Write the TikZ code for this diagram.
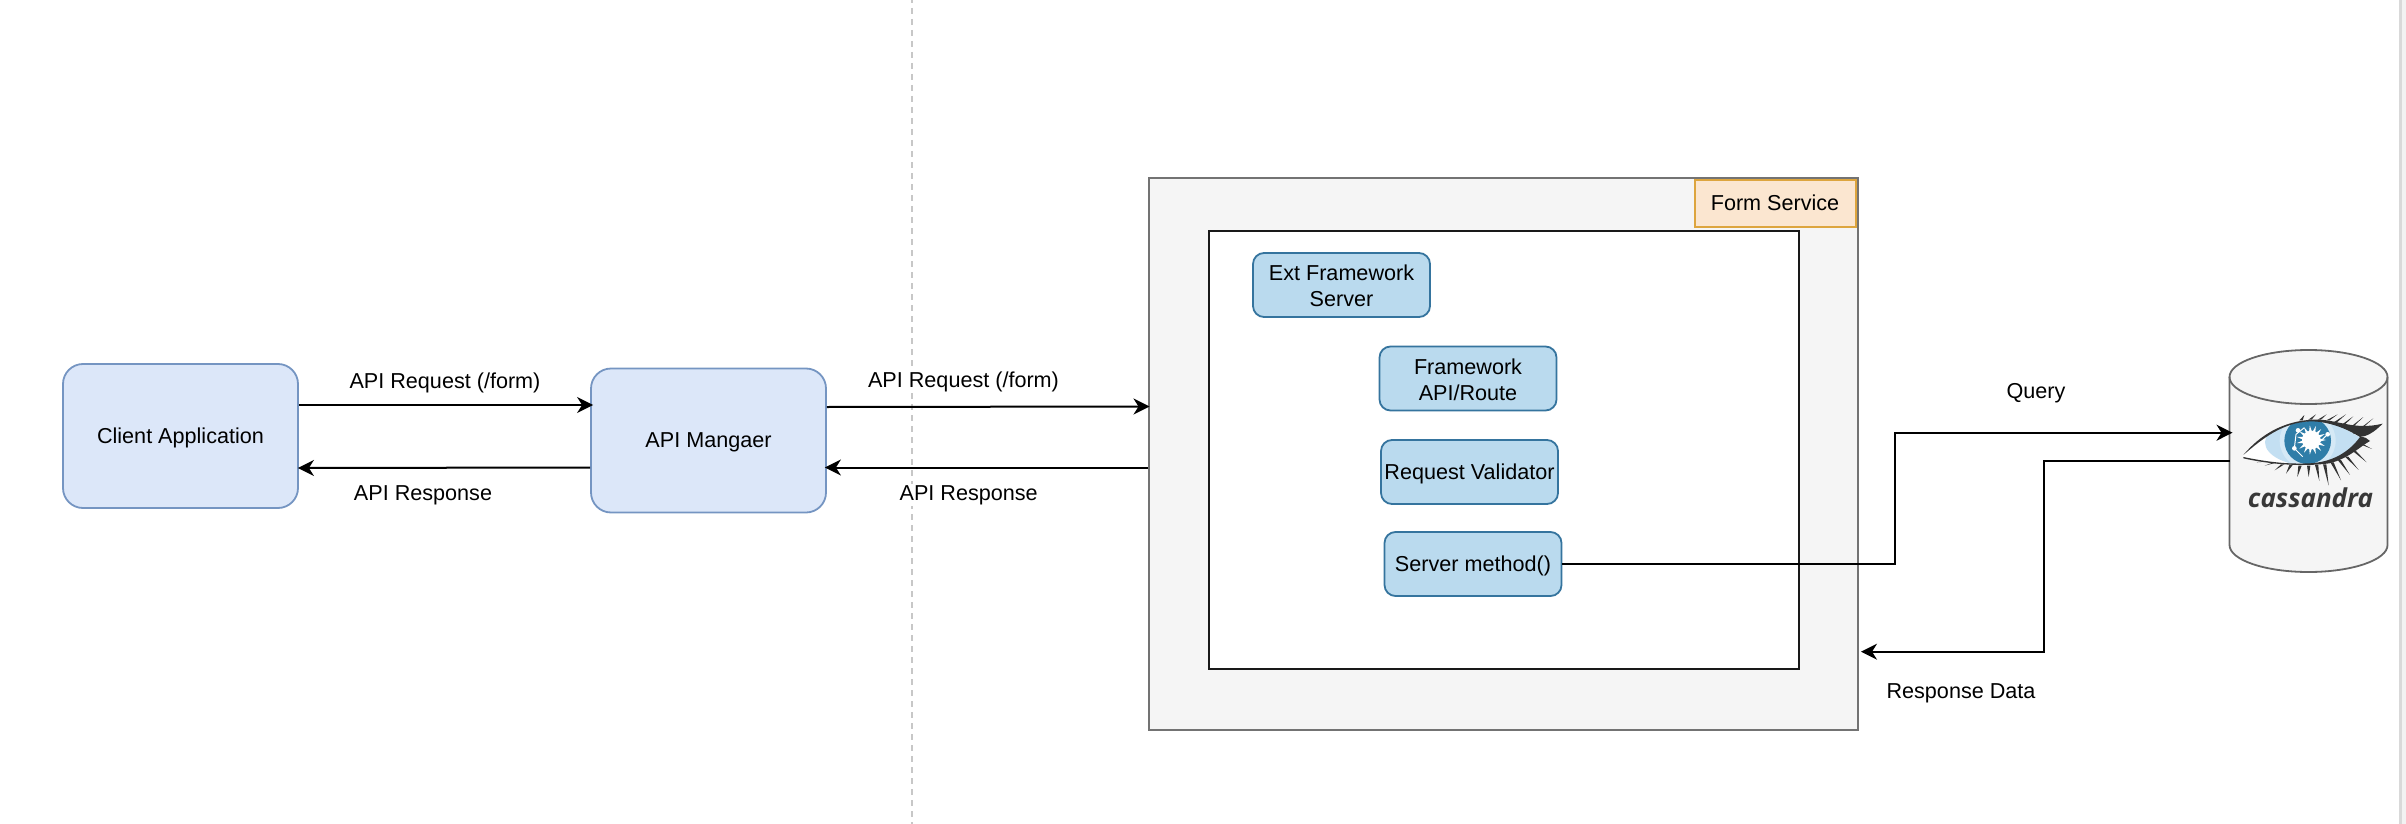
\documentclass[tikz,border=0pt]{standalone}
\usepackage{fontspec}
\setmainfont{Liberation Sans}
\newfontfamily\logofont{Open Sans}
\usetikzlibrary{arrows.meta,calc}
\definecolor{appfill}{HTML}{DCE7F9}
\definecolor{appline}{HTML}{7595C2}
\definecolor{stepfill}{HTML}{BADAEE}
\definecolor{stepline}{HTML}{35749E}
\definecolor{tagfill}{HTML}{FBE6D0}
\definecolor{tagline}{HTML}{DDA53E}
\definecolor{lashdark}{HTML}{333333}
\definecolor{irisblue}{HTML}{2F7DA8}
\definecolor{eyelight}{HTML}{C3DFF2}
\begin{document}
\begin{tikzpicture}[x=1pt,y=-1pt,font=\fontsize{21.6}{25.7}\selectfont]
    \tikzstyle{appbox} = [rectangle, rounded corners=20pt, minimum width=235pt, minimum height=144pt, inner sep=0pt, text height=16pt, text depth=1.5pt, line width=1.8pt, draw=appline, fill=appfill]
    \tikzstyle{stepbox} = [rectangle, rounded corners=11pt, minimum width=177pt, minimum height=64pt, inner sep=0pt, align=center, line width=1.8pt, draw=stepline, fill=stepfill, node distance=93.5pt]
    \tikzstyle{twolines} = [text height=43pt, text depth=0pt]
    \tikzstyle{oneline} = [text height=17pt, text depth=1.5pt]
    \tikzstyle{edgetext} = [fill=white, inner sep=1pt]
    \tikzstyle{arrow} = [line width=2pt,->,>={Stealth[length=16pt,width=16pt,inset=5pt]}]
    \tikzstyle{lash} = [fill=lashdark, draw=none]
    \tikzstyle{dbline} = [line width=1.8pt, draw=black!60]

    \useasboundingbox (0,0) rectangle (2406,824);

    % page edge on the right, page break line
    \fill [black!15] (2399,0) rectangle (2402,824);
    \fill [black!5] (2402,0) rectangle (2406,824);
    \coordinate (breaktop) at (911.5,0);
    \coordinate (breakend) at (911.5,824);
    \draw [line width=2pt, black!22, dash pattern=on 6pt off 5pt, dash phase=3pt] (breaktop) -- (breakend);

    \node (client) [appbox] at (180.5,436) {Client Application};
    \node (manager) [appbox] at (708.5,440.5) {API Mangaer};

    \node (service) [rectangle, minimum width=709pt, minimum height=552pt, line width=2pt, draw=black!55, fill=black!4] at (1503.5,454) {};
    \node (inner) [rectangle, minimum width=590pt, minimum height=438pt, line width=2pt, draw=black!90, fill=white] at (1503.5,449.5) {};
    \node (tag) [rectangle, minimum width=161pt, minimum height=47pt, inner sep=0pt, line width=2pt, draw=tagline, fill=tagfill] at (1775,203) {Form Service};

    \node (ext) [stepbox, twolines] at (1341.5,285) {Ext Framework\\Server};
    \node (route) [stepbox, twolines, below of=ext, xshift=126.5pt] {Framework\\API/Route};
    \node (validator) [stepbox, oneline, below of=route, xshift=1.5pt] {Request Validator};
    \node (method) [stepbox, oneline, below of=validator, xshift=3.5pt, yshift=1.5pt] {Server method()};

    \node (db) [rectangle, minimum width=158pt, minimum height=224pt, inner sep=0pt, outer sep=0pt] at (2308.5,461) {};
    \fill [black!4] ([yshift=-28pt]db.north west) arc [start angle=180, end angle=0, x radius=79pt, y radius=27pt] -- ([yshift=28pt]db.south east) arc [start angle=0, end angle=-180, x radius=79pt, y radius=27pt] -- cycle;
    \draw [dbline] ([yshift=-28pt]db.north west) arc [start angle=180, end angle=0, x radius=79pt, y radius=27pt] -- ([yshift=28pt]db.south east) arc [start angle=0, end angle=-180, x radius=79pt, y radius=27pt] -- cycle;
    \draw [dbline] ([yshift=-28pt]db.north west) arc [start angle=180, end angle=360, x radius=79pt, y radius=27pt];

    % eye of the logo, numbers are the px of a 3x crop
    \begin{scope}[shift={(2236,405)},x=.3333pt,y=-.3333pt]
        \fill [white] (22,150) .. controls (80,95) and (150,48) .. (230,48) .. controls (300,48) and (340,80) .. (385,105) .. controls (340,150) and (290,175) .. (220,178) .. controls (150,182) and (80,170) .. (22,160) -- cycle;
        \begin{scope}
            \clip (22,150) .. controls (80,95) and (150,48) .. (230,48) .. controls (300,48) and (340,80) .. (385,105) .. controls (340,150) and (290,175) .. (220,178) .. controls (150,182) and (80,170) .. (22,160) -- cycle;
            \fill [eyelight] (232,112) ellipse (145 and 72);
            \fill [eyelight!70!white] (215,107) circle (84);
            \fill [irisblue] (215,107) circle (70);
        \end{scope}
        % pupil with its spikes
        \fill [white] (226,105) circle (28);
        \foreach \ang in {0,24,...,336} {
            \fill [white] ($(226,105)+(\ang-9:26)$) -- ($(226,105)+(\ang:44)$) -- ($(226,105)+(\ang+9:26)$) -- cycle;
        }
        \draw [white, line width=1pt] (175,130) -- (180,88) -- (205,68);
        \draw [white, line width=1pt] (175,130) -- (200,155);
        \draw [white, line width=1pt] (275,88) -- (250,112);
        \fill [white] (175,130) circle (7) (186,76) circle (7) (275,88) circle (7);
        % lids
        \fill [lashdark] (22,150) .. controls (70,92) and (140,48) .. (230,44) .. controls (300,40) and (350,78) .. (440,56) .. controls (412,84) and (392,94) .. (372,96) .. controls (330,70) and (280,50) .. (225,49) .. controls (140,52) and (80,100) .. (22,150) -- cycle;
        \fill [lashdark] (22,156) .. controls (90,170) and (150,178) .. (220,175) .. controls (290,172) and (340,140) .. (372,96) .. controls (385,95) and (395,100) .. (402,108) .. controls (375,122) and (340,160) .. (280,175) .. controls (200,186) and (100,178) .. (22,160) -- cycle;
        \foreach \sx/\sy/\ex/\ey in {195/46/205/30, 222/44/240/28, 250/44/272/28, 276/46/305/28, 298/52/330/28, 318/62/352/34, 338/74/382/36, 356/86/412/40, 378/118/408/132, 355/138/392/172, 332/155/368/195, 310/165/342/210, 288/172/315/226, 266/178/278/242, 242/180/250/228, 218/182/218/216, 192/182/184/216, 165/180/150/206, 140/178/116/196, 112/174/86/182, 85/170/62/172} {
            \fill [lash] (\sx-5,\sy) -- (\ex,\ey) -- (\sx+5,\sy) -- cycle;
        }
    \end{scope}
    \node (logoname) [anchor=base, inner sep=0pt, text=black!78, font=\logofont\bfseries\itshape\fontsize{26}{30}\selectfont] at (2310.5,507) {cassandra};

    \coordinate (bendq) at (1895,432.7);
    \coordinate (bendr) at (2044,651.7);

    \draw [arrow] ([yshift=31pt]client.east) -- ([yshift=35.5pt,xshift=3pt]manager.west);
    \draw [arrow] ([yshift=-27pt]manager.west) -- ([yshift=-32pt,xshift=-1pt]client.east);
    \draw [arrow] ([yshift=33.5pt]manager.east) -- ([yshift=47.5pt,xshift=1.5pt]service.west);
    \draw [arrow] ([yshift=-13.5pt]service.west) -- ([yshift=-27pt,xshift=-2pt]manager.east);
    \draw [arrow] (method.east) -| (bendq) -- ([xshift=3pt]db.west |- bendq);
    \draw [arrow] (db.west) -| (bendr) -- ([yshift=-197.7pt,xshift=2pt]service.east);

    \node (reqone) [edgetext] at (445,382.5) {API Request (/form)};
    \node (respone) [edgetext] at (423,495) {API Response};
    \node (reqtwo) [edgetext] at (963.5,381.5) {API Request (/form)};
    \node (resptwo) [edgetext] at (968.7,495) {API Response};
    \node (query) [edgetext] at (2036,393.5) {Query};
    \node (respdata) [edgetext] at (1961,693) {Response Data};
\end{tikzpicture}
\end{document}
